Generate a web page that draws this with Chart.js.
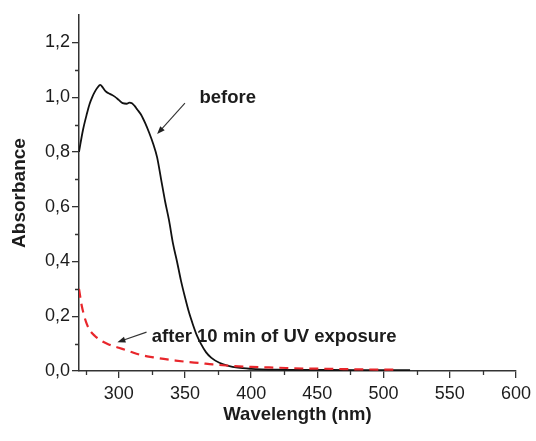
<!DOCTYPE html>
<html>
<head>
<meta charset="utf-8">
<script src="https://cdn.jsdelivr.net/npm/chart.js@4/dist/chart.umd.min.js"></script>
<style>
  html, body { margin: 0; padding: 0; background: #fff; }
  #wrap { width: 536px; height: 441px; }
</style>
</head>
<body>
<div id="wrap"><canvas id="myChart" width="536" height="441"></canvas></div>
<script>
// spectrum before irradiation
const wlBefore = [270, 273, 276, 278, 280, 282, 284, 286, 288, 290, 292, 295, 297, 300, 303, 306, 308, 310, 312, 314,
  317, 320, 323, 326, 329, 332, 335, 338, 341, 344, 347, 350, 353, 356, 359, 362, 366, 370, 376, 382, 390, 400, 420, 450, 480, 520]
const absBefore = [0.80, 0.88, 0.94, 0.975, 1.0, 1.02, 1.035, 1.045, 1.035, 1.022, 1.015, 1.008, 1.002, 0.99, 0.978, 0.976, 0.98, 0.978, 0.968, 0.955,
  0.935, 0.905, 0.87, 0.83, 0.78, 0.70, 0.62, 0.55, 0.465, 0.40, 0.33, 0.27, 0.215, 0.17, 0.13, 0.10, 0.068, 0.048, 0.03, 0.02, 0.012, 0.008, 0.005, 0.004, 0.003, 0.003]

// spectrum after 10 min UV
const wlAfter = [270, 272, 274, 276, 278, 282, 286, 292, 300, 308, 317, 326, 334, 343, 352, 361, 371, 381, 400, 420, 440, 460, 480, 508]
const absAfter = [0.30, 0.24, 0.20, 0.17, 0.15, 0.128, 0.113, 0.098, 0.085, 0.072, 0.058, 0.05, 0.044, 0.038, 0.033, 0.029, 0.024, 0.02, 0.015, 0.012, 0.009, 0.008, 0.006, 0.005]

const xTicksMinor = [275, 325, 375, 425, 475, 525, 575]
const yTicksMinor = [0.1, 0.3, 0.5, 0.7, 0.9, 1.1]

// labels with arrows: text anchor and arrow tail/tip in data units
const notes = [
  { text: 'before', x: 361, y: 0.996, from: [350, 0.978], to: [329, 0.865] },
  { text: 'after 10 min of UV exposure', x: 325, y: 0.124, from: [321, 0.142], to: [299, 0.105] },
]

const ink = '#1c1c1c'
const fontFam = "'Liberation Sans', Arial, sans-serif"

const toPoints = (xs, ys) => xs.map((x, i) => ({ x: x, y: ys[i] }))

const minorTicks = {
  id: 'minorTicks',
  afterDraw(chart) {
    const { ctx, scales } = chart
    const xs = scales.x, ys = scales.y
    ctx.save()
    ctx.strokeStyle = '#333'
    ctx.lineWidth = 1.3
    ctx.beginPath()
    xTicksMinor.forEach(v => {
      const px = Math.round(xs.getPixelForValue(v)) + 0.5
      ctx.moveTo(px, xs.top)
      ctx.lineTo(px, xs.top + 4)
    })
    yTicksMinor.forEach(v => {
      const py = Math.round(ys.getPixelForValue(v)) + 0.5
      ctx.moveTo(ys.right, py)
      ctx.lineTo(ys.right - 4, py)
    })
    ctx.stroke()
    ctx.restore()
  },
}

const arrowNotes = {
  id: 'arrowNotes',
  afterDatasetsDraw(chart) {
    const { ctx, scales } = chart
    const xs = scales.x, ys = scales.y
    ctx.save()
    ctx.font = 'bold 18.5px ' + fontFam
    ctx.fillStyle = ink
    ctx.textBaseline = 'middle'
    notes.forEach(n => {
      ctx.fillText(n.text, xs.getPixelForValue(n.x), ys.getPixelForValue(n.y))
      const x1 = xs.getPixelForValue(n.from[0]), y1 = ys.getPixelForValue(n.from[1])
      const x2 = xs.getPixelForValue(n.to[0]), y2 = ys.getPixelForValue(n.to[1])
      const a = Math.atan2(y2 - y1, x2 - x1)
      ctx.strokeStyle = '#333'
      ctx.lineWidth = 1.1
      ctx.beginPath()
      ctx.moveTo(x1, y1)
      ctx.lineTo(x2 - 6 * Math.cos(a), y2 - 6 * Math.sin(a))
      ctx.stroke()
      ctx.fillStyle = '#222'
      ctx.beginPath()
      ctx.moveTo(x2, y2)
      ctx.lineTo(x2 - 8 * Math.cos(a) + 3 * Math.sin(a), y2 - 8 * Math.sin(a) - 3 * Math.cos(a))
      ctx.lineTo(x2 - 8 * Math.cos(a) - 3 * Math.sin(a), y2 - 8 * Math.sin(a) + 3 * Math.cos(a))
      ctx.closePath()
      ctx.fill()
      ctx.fillStyle = ink
    })
    ctx.restore()
  },
}

const ctx = document.getElementById('myChart').getContext('2d')
const myChart = new Chart(ctx, {
  type: 'line',
  data: {
    datasets: [
      {
        label: 'after',
        data: toPoints(wlAfter, absAfter),
        borderColor: '#e8262b',
        borderWidth: 2.2,
        borderDash: [9, 6],
        pointRadius: 0,
        cubicInterpolationMode: 'monotone',
        fill: false,
        order: 0,
      },
      {
        label: 'before',
        data: toPoints(wlBefore, absBefore),
        borderColor: '#111',
        borderWidth: 1.8,
        pointRadius: 0,
        cubicInterpolationMode: 'monotone',
        fill: false,
        order: 1,
      },
    ],
  },
  options: {
    responsive: false,
    animation: false,
    maintainAspectRatio: false,
    layout: { padding: { top: 15, right: 18, left: 0, bottom: 0 } },
    plugins: {
      legend: { display: false },
      tooltip: { enabled: false },
    },
    scales: {
      x: {
        type: 'linear',
        min: 270,
        max: 600,
        afterFit: s => { s.height = 70 },
        border: { color: '#333', width: 1.5 },
        grid: { drawOnChartArea: false, tickLength: 7, color: '#333', lineWidth: 1.3 },
        ticks: {
          stepSize: 50,
          includeBounds: false,
          padding: 5,
          color: ink,
          font: { family: fontFam, size: 18 },
        },
        title: {
          display: true,
          text: 'Wavelength (nm)',
          color: ink,
          font: { family: fontFam, size: 18.5, weight: 'bold' },
          padding: { top: 0, bottom: 15 },
        },
      },
      y: {
        min: 0,
        max: 1.3,
        afterFit: s => { s.width = 79 },
        border: { color: '#333', width: 1.5 },
        grid: { drawOnChartArea: false, tickLength: 7, color: '#333', lineWidth: 1.3 },
        ticks: {
          stepSize: 0.2,
          includeBounds: false,
          padding: 2,
          color: ink,
          font: { family: fontFam, size: 18 },
          callback: v => v.toFixed(1).replace('.', ','),
        },
        title: {
          display: true,
          text: 'Absorbance',
          color: ink,
          font: { family: fontFam, size: 19, weight: 'bold' },
          padding: { top: 8, bottom: 0 },
        },
      },
    },
  },
  plugins: [minorTicks, arrowNotes],
})
</script>
</body>
</html>
